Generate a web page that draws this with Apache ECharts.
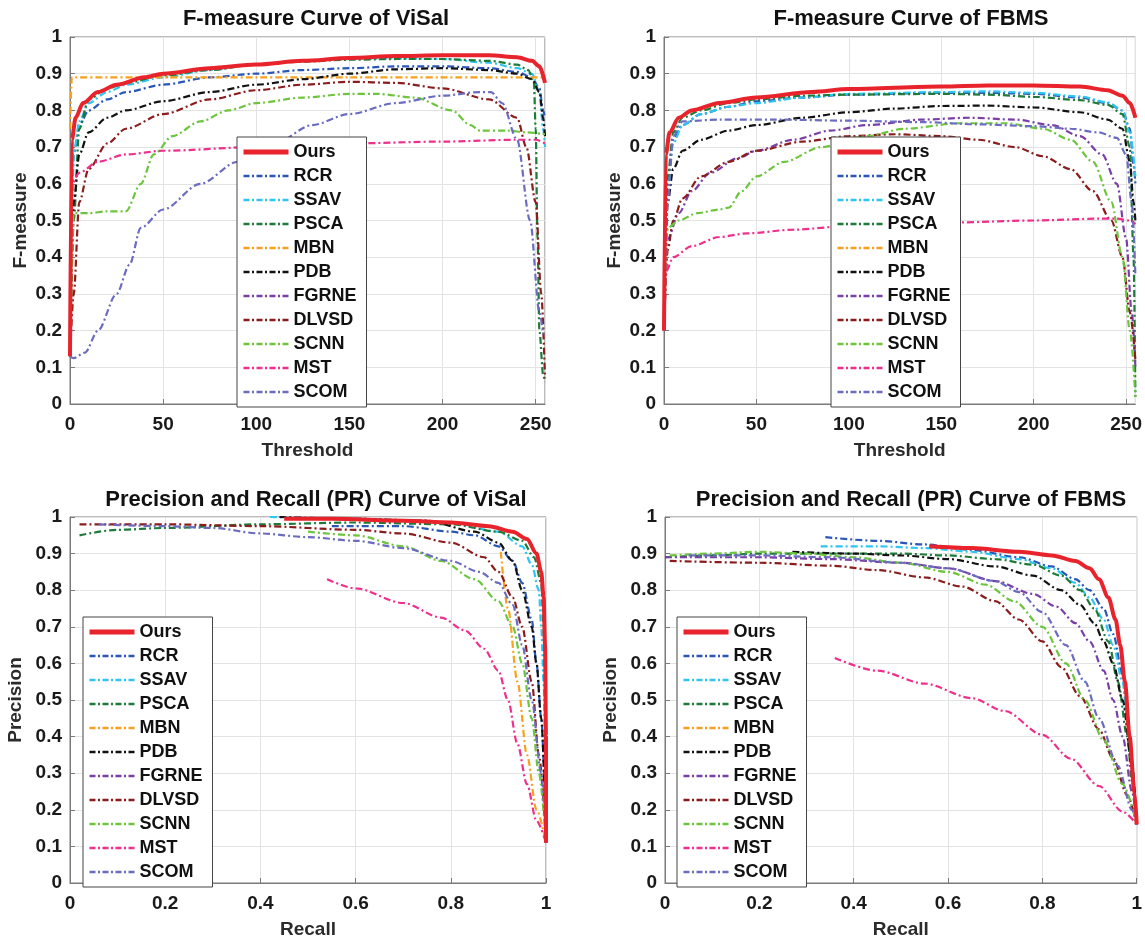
<!DOCTYPE html>
<html>
<head>
<meta charset="utf-8">
<script src="https://cdn.jsdelivr.net/npm/echarts@6/dist/echarts.min.js"></script>
<style>html,body{margin:0;padding:0;background:#fff}#c{width:1145px;height:940px}</style>
</head>
<body>
<div id="c"></div>
<script>
const methods = ['Ours','RCR','SSAV','PSCA','MBN','PDB','FGRNE','DLVSD','SCNN','MST','SCOM'];
const colors = {Ours:'#e8232b',RCR:'#2a56b5',SSAV:'#2ec5f2',PSCA:'#1d7a38',MBN:'#f8a11e',PDB:'#111111',FGRNE:'#7a3fa6',DLVSD:'#8a1c1c',SCNN:'#6cc53d',MST:'#ef2f8c',SCOM:'#6b6cc0'};
const titles = ['F-measure Curve of ViSal','F-measure Curve of FBMS','Precision and Recall (PR) Curve of ViSal','Precision and Recall (PR) Curve of FBMS'];
const thrTicks = [0,50,100,150,200,250];
const recTicks = [0,0.2,0.4,0.6,0.8,1];

// F-measure ViSal: [threshold, F]
const fmV_Ours = [[0,0.13],[1,0.72],[3,0.78],[7,0.82],[15,0.85],[25,0.87],[40,0.89],[50,0.90],[75,0.915],[100,0.925],[125,0.935],[150,0.943],[175,0.948],[200,0.95],[225,0.95],[240,0.945],[248,0.935],[252,0.92],[255,0.875]];
const fmV_RCR = [[0,0.13],[2,0.68],[5,0.76],[10,0.80],[20,0.83],[30,0.85],[50,0.87],[75,0.89],[100,0.90],[125,0.91],[150,0.915],[175,0.92],[200,0.92],[225,0.915],[240,0.905],[248,0.89],[252,0.86],[254,0.80],[255,0.78]];
const fmV_SSAV = [[0,0.13],[2,0.68],[5,0.77],[10,0.82],[20,0.85],[30,0.87],[50,0.89],[75,0.91],[100,0.925],[125,0.935],[150,0.94],[175,0.942],[200,0.94],[225,0.93],[240,0.915],[248,0.90],[252,0.85],[254,0.75],[255,0.70]];
const fmV_PSCA = [[0,0.13],[2,0.5],[5,0.75],[10,0.83],[20,0.86],[30,0.875],[50,0.895],[75,0.91],[100,0.925],[125,0.933],[150,0.938],[175,0.94],[200,0.94],[225,0.935],[240,0.925],[246,0.91],[249,0.88],[250,0.75],[251,0.45],[252,0.2],[254,0.08],[255,0.06]];
const fmV_MBN = [[0,0.75],[1,0.89],[50,0.89],[100,0.89],[150,0.89],[200,0.89],[255,0.89]];
const fmV_PDB = [[0,0.13],[2,0.55],[5,0.68],[10,0.74],[20,0.78],[30,0.80],[50,0.825],[75,0.85],[100,0.87],[125,0.885],[150,0.90],[175,0.912],[200,0.915],[225,0.91],[240,0.90],[248,0.885],[252,0.85],[254,0.78],[255,0.73]];
const fmV_DLVSD = [[0,0.13],[2,0.3],[5,0.55],[10,0.64],[20,0.71],[30,0.75],[50,0.79],[75,0.83],[100,0.855],[125,0.87],[150,0.878],[175,0.875],[200,0.86],[225,0.83],[240,0.78],[245,0.70],[250,0.55],[253,0.3],[255,0.07]];
const fmV_SCNN = [[0,0.13],[2,0.52],[10,0.52],[20,0.525],[30,0.525],[38,0.60],[45,0.68],[55,0.73],[70,0.77],[85,0.80],[100,0.82],[125,0.835],[150,0.845],[165,0.845],[185,0.835],[205,0.80],[215,0.76],[220,0.745],[235,0.745],[245,0.74],[255,0.735]];
const fmV_MST = [[0,0.13],[1,0.60],[5,0.63],[15,0.66],[30,0.68],[50,0.69],[100,0.70],[150,0.71],[200,0.715],[240,0.72],[250,0.72],[255,0.71]];
const fmV_SCOM = [[0,0.13],[2,0.125],[8,0.14],[15,0.2],[25,0.3],[32,0.38],[38,0.48],[50,0.53],[70,0.60],[90,0.66],[110,0.71],[130,0.76],[150,0.79],[175,0.82],[200,0.84],[220,0.85],[226,0.85],[232,0.82],[240,0.72],[247,0.5],[252,0.25],[254,0.19]];

// F-measure FBMS
const fmF_Ours = [[0,0.2],[1,0.68],[3,0.74],[8,0.78],[15,0.80],[30,0.82],[50,0.835],[80,0.85],[100,0.858],[150,0.865],[175,0.868],[200,0.868],[225,0.865],[240,0.855],[248,0.84],[252,0.82],[255,0.78]];
const fmF_RCR = [[0,0.2],[2,0.6],[5,0.72],[10,0.76],[20,0.79],[35,0.81],[50,0.825],[75,0.835],[100,0.843],[150,0.848],[175,0.848],[200,0.845],[225,0.835],[240,0.82],[248,0.80],[252,0.75],[254,0.65],[255,0.6]];
const fmF_SSAV = [[0,0.2],[2,0.6],[5,0.71],[10,0.76],[20,0.79],[35,0.81],[50,0.82],[75,0.835],[100,0.845],[150,0.85],[175,0.852],[200,0.848],[225,0.838],[240,0.822],[248,0.80],[252,0.74],[255,0.62]];
const fmF_PSCA = [[0,0.2],[2,0.62],[5,0.74],[10,0.78],[20,0.80],[35,0.82],[50,0.83],[75,0.84],[100,0.843],[150,0.845],[175,0.843],[200,0.837],[225,0.828],[240,0.815],[248,0.79],[252,0.70],[254,0.4],[255,0.02]];
const fmF_PDB = [[0,0.2],[2,0.55],[5,0.64],[10,0.69],[20,0.72],[35,0.745],[50,0.76],[75,0.78],[100,0.795],[125,0.805],[150,0.812],[175,0.813],[200,0.808],[225,0.795],[240,0.775],[248,0.75],[252,0.66],[254,0.55],[255,0.5]];
const fmF_FGRNE = [[0,0.2],[2,0.45],[8,0.52],[15,0.58],[25,0.63],[40,0.67],[50,0.69],[70,0.72],[90,0.745],[110,0.76],[140,0.775],[165,0.78],[190,0.775],[210,0.76],[225,0.73],[237,0.68],[245,0.60],[250,0.45],[253,0.25],[255,0.1]];
const fmF_DLVSD = [[0,0.2],[2,0.42],[5,0.50],[10,0.56],[20,0.62],[35,0.66],[50,0.69],[75,0.715],[100,0.73],[125,0.735],[150,0.73],[170,0.72],[190,0.70],[205,0.675],[220,0.64],[232,0.58],[242,0.5],[248,0.4],[252,0.25],[255,0.12]];
const fmF_SCNN = [[0,0.2],[2,0.48],[8,0.50],[18,0.52],[30,0.53],[35,0.535],[42,0.58],[50,0.62],[65,0.66],[85,0.70],[110,0.73],[130,0.75],[160,0.765],[185,0.765],[205,0.75],[220,0.72],[232,0.66],[242,0.55],[248,0.4],[252,0.2],[255,0.02]];
const fmF_MST = [[0,0.2],[1,0.36],[5,0.40],[15,0.43],[30,0.455],[45,0.465],[70,0.475],[100,0.485],[130,0.49],[160,0.495],[200,0.50],[235,0.505],[245,0.505],[252,0.50],[255,0.49]];
const fmF_SCOM = [[0,0.2],[2,0.55],[5,0.73],[10,0.77],[30,0.775],[60,0.775],[100,0.772],[140,0.768],[170,0.762],[200,0.757],[220,0.75],[235,0.74],[245,0.725],[250,0.68],[253,0.55],[255,0.35]];

// PR ViSal: [recall, precision]
const prV_Ours = [[0.45,0.995],[0.55,0.995],[0.7,0.99],[0.8,0.985],[0.88,0.975],[0.93,0.96],[0.96,0.94],[0.98,0.9],[0.99,0.85],[0.995,0.78],[0.998,0.65],[1.0,0.4],[1.0,0.11]];
const prV_RCR = [[0.55,0.975],[0.7,0.975],[0.8,0.96],[0.85,0.95],[0.9,0.92],[0.93,0.88],[0.95,0.82],[0.97,0.72],[0.98,0.6],[0.99,0.45],[1.0,0.11]];
const prV_SSAV = [[0.42,1.0],[0.6,0.995],[0.8,0.985],[0.9,0.96],[0.95,0.92],[0.97,0.87],[0.985,0.80],[0.99,0.7],[0.995,0.55],[1.0,0.11]];
const prV_PSCA = [[0.02,0.95],[0.1,0.965],[0.2,0.97],[0.4,0.98],[0.6,0.985],[0.8,0.98],[0.9,0.96],[0.95,0.935],[0.975,0.89],[0.99,0.82],[0.995,0.7],[1.0,0.4],[1.0,0.11]];
const prV_MBN = [[0.905,0.905],[0.92,0.75],[0.94,0.55],[0.96,0.35],[0.98,0.2],[1.0,0.11]];
const prV_PDB = [[0.44,1.0],[0.6,0.995],[0.75,0.99],[0.85,0.96],[0.9,0.93],[0.93,0.88],[0.95,0.8],[0.97,0.7],[0.98,0.6],[0.99,0.45],[1.0,0.11]];
const prV_DLVSD = [[0.02,0.98],[0.2,0.98],[0.4,0.975],[0.6,0.965],[0.7,0.955],[0.8,0.93],[0.87,0.89],[0.9,0.85],[0.93,0.78],[0.95,0.7],[0.97,0.55],[0.985,0.35],[1.0,0.11]];
const prV_SCNN = [[0.5,0.96],[0.6,0.95],[0.7,0.92],[0.78,0.88],[0.85,0.83],[0.9,0.77],[0.93,0.7],[0.95,0.6],[0.97,0.45],[0.985,0.3],[1.0,0.11]];
const prV_MST = [[0.54,0.83],[0.6,0.805],[0.7,0.765],[0.78,0.725],[0.83,0.69],[0.87,0.64],[0.9,0.58],[0.92,0.5],[0.94,0.38],[0.96,0.27],[0.98,0.17],[1.0,0.11]];
const prV_SCOM = [[0.06,0.98],[0.2,0.975],[0.3,0.97],[0.4,0.955],[0.5,0.945],[0.6,0.935],[0.7,0.915],[0.8,0.88],[0.86,0.85],[0.9,0.82],[0.93,0.76],[0.95,0.65],[0.97,0.5],[0.99,0.3],[1.0,0.11]];

// PR FBMS
const prF_Ours = [[0.56,0.92],[0.65,0.915],[0.75,0.905],[0.82,0.895],[0.87,0.88],[0.9,0.86],[0.92,0.83],[0.94,0.78],[0.955,0.72],[0.965,0.65],[0.975,0.55],[0.985,0.4],[0.995,0.25],[1.0,0.16]];
const prF_RCR = [[0.34,0.945],[0.45,0.935],[0.55,0.925],[0.65,0.91],[0.75,0.89],[0.82,0.865],[0.87,0.83],[0.9,0.8],[0.93,0.75],[0.95,0.68],[0.97,0.57],[0.98,0.45],[0.99,0.32],[1.0,0.16]];
const prF_SSAV = [[0.33,0.92],[0.45,0.92],[0.55,0.915],[0.65,0.905],[0.75,0.885],[0.82,0.86],[0.87,0.82],[0.9,0.78],[0.93,0.72],[0.95,0.65],[0.97,0.55],[0.98,0.45],[0.99,0.32],[1.0,0.16]];
const prF_PSCA = [[0.0,0.89],[0.1,0.895],[0.2,0.9],[0.35,0.9],[0.5,0.9],[0.6,0.895],[0.7,0.885],[0.78,0.87],[0.84,0.84],[0.88,0.8],[0.91,0.75],[0.94,0.66],[0.96,0.55],[0.98,0.4],[0.99,0.28],[1.0,0.16]];
const prF_PDB = [[0.27,0.905],[0.4,0.9],[0.5,0.895],[0.6,0.885],[0.7,0.865],[0.78,0.84],[0.84,0.8],[0.88,0.76],[0.91,0.71],[0.93,0.66],[0.95,0.6],[0.97,0.5],[0.99,0.32],[1.0,0.16]];
const prF_FGRNE = [[0.0,0.89],[0.2,0.89],[0.35,0.885],[0.5,0.875],[0.6,0.86],[0.7,0.825],[0.78,0.79],[0.83,0.755],[0.87,0.71],[0.9,0.66],[0.93,0.58],[0.95,0.5],[0.97,0.4],[0.99,0.25],[1.0,0.16]];
const prF_DLVSD = [[0.01,0.88],[0.2,0.875],[0.35,0.867],[0.45,0.855],[0.55,0.835],[0.63,0.81],[0.7,0.77],[0.75,0.72],[0.8,0.66],[0.84,0.59],[0.88,0.51],[0.92,0.42],[0.95,0.34],[0.98,0.24],[1.0,0.16]];
const prF_SCNN = [[0.01,0.895],[0.1,0.9],[0.2,0.905],[0.3,0.9],[0.4,0.89],[0.5,0.875],[0.6,0.85],[0.68,0.815],[0.74,0.77],[0.8,0.7],[0.85,0.6],[0.89,0.5],[0.93,0.39],[0.97,0.27],[1.0,0.16]];
const prF_MST = [[0.36,0.615],[0.45,0.58],[0.55,0.545],[0.65,0.505],[0.72,0.47],[0.8,0.405],[0.86,0.34],[0.92,0.265],[0.97,0.195],[1.0,0.16]];
const prF_SCOM = [[0.05,0.895],[0.2,0.895],[0.35,0.89],[0.5,0.875],[0.6,0.86],[0.7,0.825],[0.75,0.795],[0.8,0.74],[0.85,0.65],[0.89,0.55],[0.92,0.45],[0.96,0.32],[0.99,0.2],[1.0,0.16]];

const panels = [
  {RCR:fmV_RCR,SSAV:fmV_SSAV,PSCA:fmV_PSCA,MBN:fmV_MBN,PDB:fmV_PDB,DLVSD:fmV_DLVSD,SCNN:fmV_SCNN,MST:fmV_MST,SCOM:fmV_SCOM,Ours:fmV_Ours},
  {RCR:fmF_RCR,SSAV:fmF_SSAV,PSCA:fmF_PSCA,PDB:fmF_PDB,FGRNE:fmF_FGRNE,DLVSD:fmF_DLVSD,SCNN:fmF_SCNN,MST:fmF_MST,SCOM:fmF_SCOM,Ours:fmF_Ours},
  {RCR:prV_RCR,SSAV:prV_SSAV,PSCA:prV_PSCA,MBN:prV_MBN,PDB:prV_PDB,DLVSD:prV_DLVSD,SCNN:prV_SCNN,MST:prV_MST,SCOM:prV_SCOM,Ours:prV_Ours},
  {RCR:prF_RCR,SSAV:prF_SSAV,PSCA:prF_PSCA,PDB:prF_PDB,FGRNE:prF_FGRNE,DLVSD:prF_DLVSD,SCNN:prF_SCNN,MST:prF_MST,SCOM:prF_SCOM,Ours:prF_Ours}
];

const FONT = '"Liberation Sans", Arial, Helvetica, sans-serif';
const gridPos = [
  {left:70, top:37, width:475, height:367},
  {left:664, top:37, width:476, height:367},
  {left:70, top:517, width:476, height:366},
  {left:665, top:517, width:475, height:366}
];
const titleCenters = [[311,3],[906,3],[311,484],[906,484]];
const legendPos = [[237,137],[831,137],[83,617],[677,617]];
const xNames = ['Threshold','Threshold','Recall','Recall'];
const yNames = ['F-measure','F-measure','Precision','Precision'];

const labelStyle = {color:'#1a1a1a', fontSize:19, fontWeight:'bold', fontFamily:FONT};
const nameStyle = {color:'#2b2b2b', fontSize:19, fontWeight:'bold', fontFamily:FONT};
const grids = gridPos.map(g => Object.assign({show:true, borderColor:'#7a7a7a', borderWidth:1, backgroundColor:'#fff'}, g));
const xAxes = gridPos.map((g,i) => {
  const isThr = i < 2;
  const ticks = isThr ? thrTicks : recTicks;
  return {
    type:'value', gridIndex:i, min:0, max: isThr ? 255 : 1, interval: isThr ? 50 : 0.2,
    name:xNames[i], nameLocation:'middle', nameGap: 37,
    nameTextStyle:nameStyle,
    axisLine:{show:true, lineStyle:{color:'#7a7a7a', width:1}},
    axisTick:{show:true, inside:true, length:5, lineStyle:{color:'#7a7a7a'}},
    axisLabel:Object.assign({margin:11, showMaxLabel: !isThr, formatter: v => {
      const r = Math.round(v*100)/100;
      return ticks.some(t => Math.abs(t-r) < 1e-6) ? String(r) : '';
    }}, labelStyle),
    splitLine:{show:true, lineStyle:{color:'#e3e3e3', width:1}}
  };
});
const yAxes = gridPos.map((g,i) => ({
  type:'value', gridIndex:i, min:0, max:1, interval:0.1,
  name:yNames[i], nameLocation:'middle', nameGap: i < 2 ? 40 : 45, nameRotate:90,
  nameTextStyle:nameStyle,
  axisLine:{show:true, lineStyle:{color:'#7a7a7a', width:1}},
  axisTick:{show:true, inside:true, length:5, lineStyle:{color:'#7a7a7a'}},
  axisLabel:Object.assign({margin:8, formatter: v => String(Math.round(v*10)/10)}, labelStyle),
  splitLine:{show:true, lineStyle:{color:'#e3e3e3', width:1}}
}));

const series = [];
panels.forEach((p, i) => {
  Object.keys(p).forEach(name => {
    const isOurs = name === 'Ours';
    series.push({
      type:'line', name, xAxisIndex:i, yAxisIndex:i, data:p[name],
      symbol:'none', showSymbol:false, smooth:0.3, smoothMonotone: 'x', clip:true,
      z: isOurs ? 5 : 3,
      lineStyle:{color:colors[name], width: isOurs ? 4 : 2.2, type: isOurs ? 'solid' : [7,3,2,3]},
      itemStyle:{color:colors[name]},
      emphasis:{disabled:true}
    });
  });
});

const legendData = methods.map(m => ({
  name: m,
  lineStyle: m === 'Ours'
    ? {color: colors[m], width: 5, type: 'solid'}
    : {color: colors[m], width: 2.6, type: [6,2.5,2,2.5]}
}));

const option = {
  animation:false,
  backgroundColor:'#fff',
  title: titles.map((t,i) => ({
    text:t, left:titleCenters[i][0], top:titleCenters[i][1], textAlign:'center',
    textStyle:{color:'#111', fontSize:22, fontWeight:'bold', fontFamily:FONT}
  })),
  legend: legendPos.map(p => ({
    data: legendData, orient:'vertical', left:p[0], top:p[1],
    itemWidth:45, itemHeight:14, itemGap:6, padding:[6,10,6,4],
    backgroundColor:'#fff', borderColor:'#444', borderWidth:1,
    selectedMode:false,
    itemStyle:{color:'rgba(0,0,0,0)', borderWidth:0, borderColor:'rgba(0,0,0,0)', opacity:0},
    textStyle:{color:'#111', fontSize:18, fontWeight:'bold', fontFamily:FONT, lineHeight:17}
  })),
  grid: grids,
  xAxis: xAxes,
  yAxis: yAxes,
  series
};
echarts.init(document.getElementById('c'), null, {renderer:'canvas'}).setOption(option);
</script>
</body>
</html>
